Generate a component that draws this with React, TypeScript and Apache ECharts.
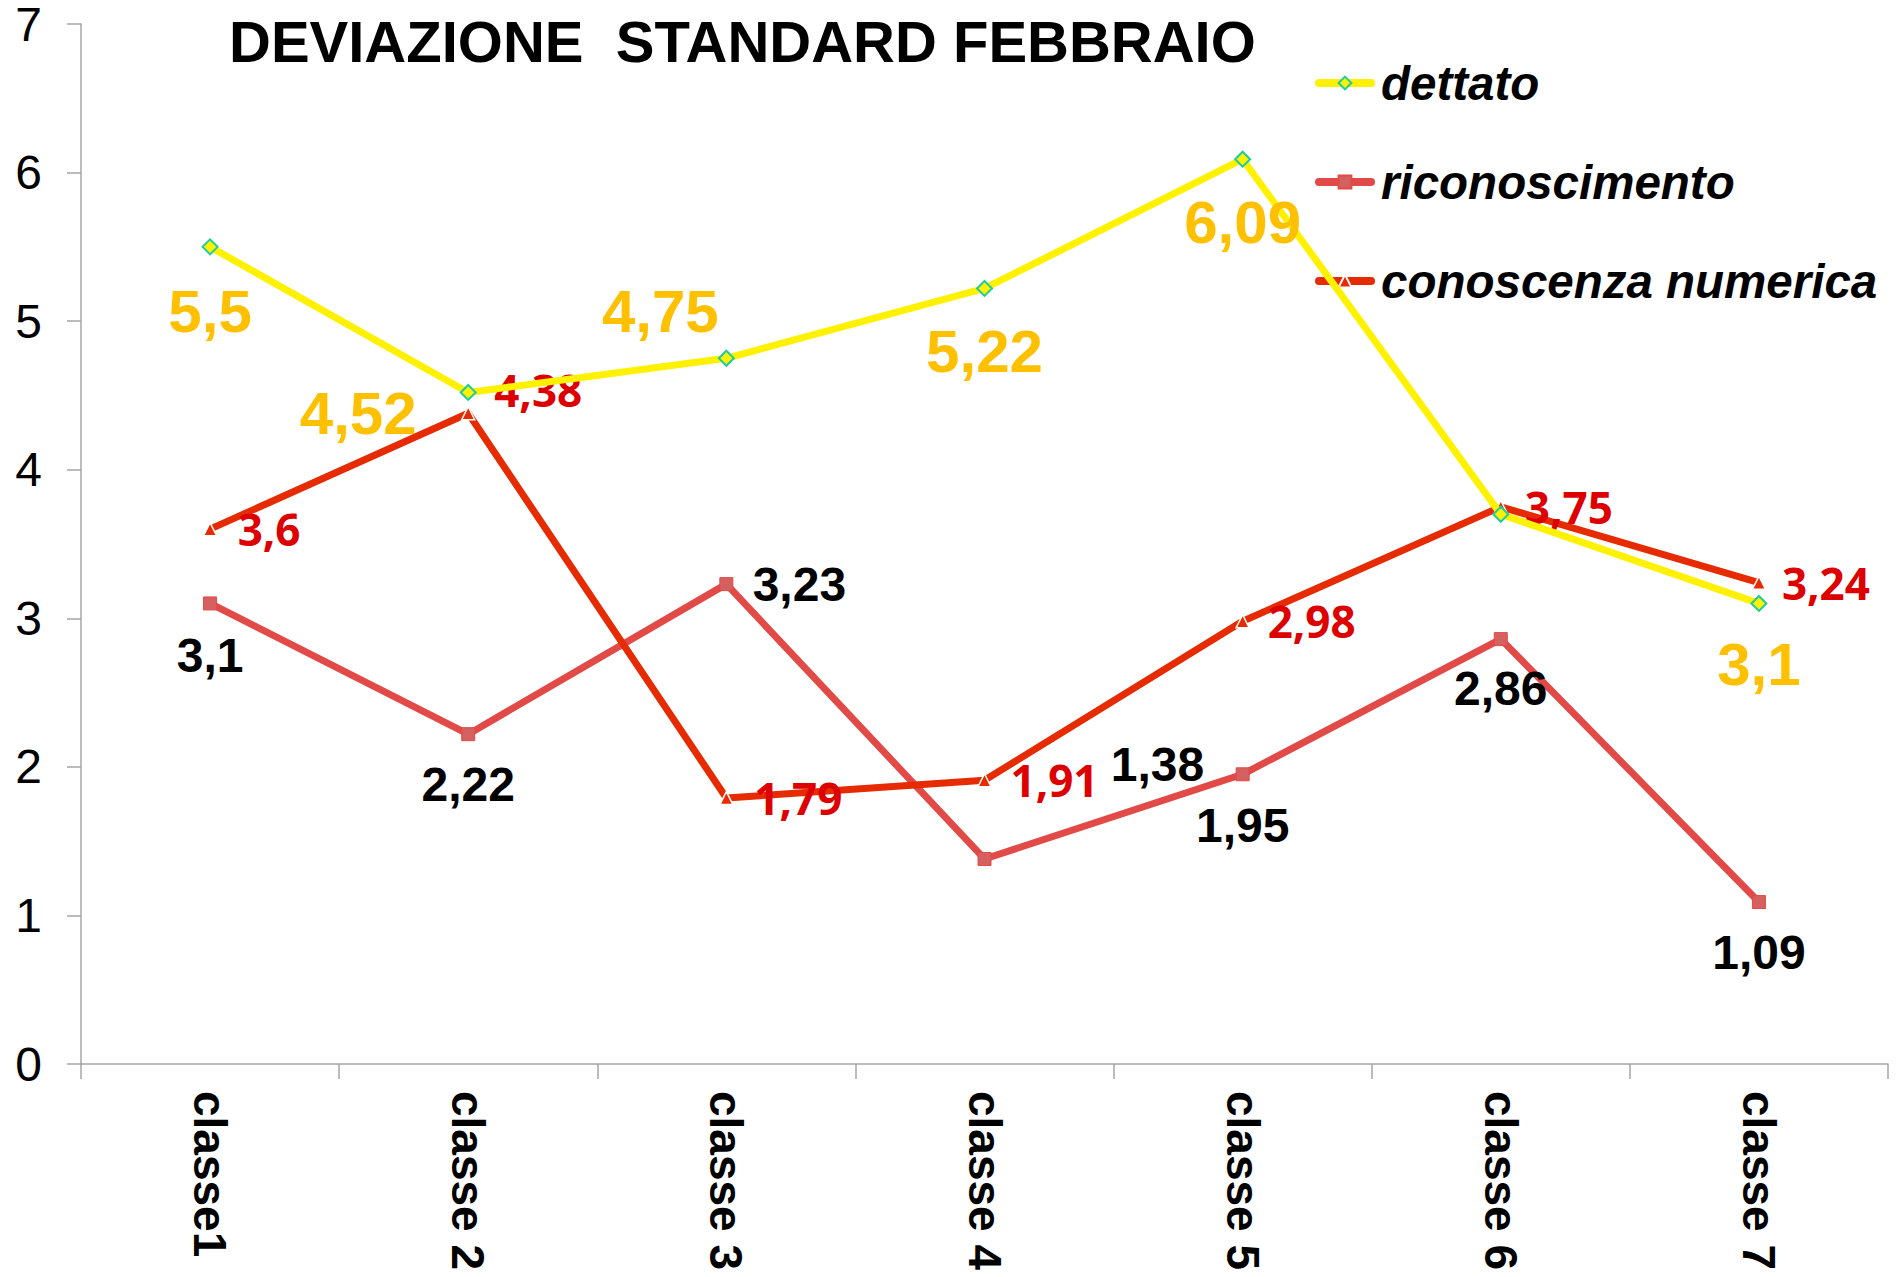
import React, { useEffect, useRef } from "react";
import * as echarts from "echarts";

const categories = ["classe1", "classe 2", "classe 3", "classe 4", "classe 5", "classe 6", "classe 7"];
const dettato = [5.5, 4.52, 4.75, 5.22, 6.09, 3.7, 3.1];
const riconoscimento = [3.1, 2.22, 3.23, 1.38, 1.95, 2.86, 1.09];
const conoscenza = [3.6, 4.38, 1.79, 1.91, 2.98, 3.75, 3.24];
const seriesNames = ["dettato", "riconoscimento", "conoscenza numerica"];
const titleText = "DEVIAZIONE  STANDARD FEBBRAIO";

// label placement (offsets from the point, in px); null = no label
const dettatoLabelOffsets: (number[] | null)[] = [[0, 65], [-110, 21], [-66, -47], [0, 63], [0, 63], null, [0, 61]];
const riconLabelOffsets: (number[] | null)[] = [[0, 52], [0, 50], [73, 0], [173, -94], [0, 51], [0, 49], [0, 50]];
const conoscLabelOffsets: (number[] | null)[] = [[59, 0], [70, -23], [72, 0], [70, 0], [69, 0], [68, 0], [67, 0]];

const fmt = (v: number) => String(v).replace(".", ",");

function buildData(values: number[], offsets: (number[] | null)[]) {
  return values.map((v, i) => {
    const off = offsets[i];
    if (!off) return { value: v, label: { show: false } };
    return { value: v, label: { show: true, position: "inside", offset: off } };
  });
}

export default function App() {
  const ref = useRef<HTMLDivElement>(null);
  useEffect(() => {
    if (!ref.current) return;
    const chart = echarts.init(ref.current, undefined, { renderer: "svg" });
    const font = "'Liberation Sans', Arial, sans-serif";
    chart.setOption({
      animation: false,
      backgroundColor: "#ffffff",
      title: {
        text: titleText,
        left: 224,
        top: 7,
        textStyle: { fontSize: 58, fontWeight: "bold", color: "#000", fontFamily: font },
      },
      legend: {
        data: seriesNames,
        orient: "vertical",
        left: 1310,
        top: 54,
        itemWidth: 52,
        itemHeight: 16,
        itemGap: 51,
        z: 1,
        lineStyle: { width: 8, cap: "round" },
        textStyle: {
          fontSize: 47.5,
          lineHeight: 46,
          fontWeight: "bold",
          fontStyle: "italic",
          color: "#000",
          fontFamily: font,
          padding: [0, 0, 0, 5],
        },
      },
      grid: { left: 81, right: 12, top: 24, bottom: 213, containLabel: false },
      xAxis: {
        type: "category",
        data: categories,
        boundaryGap: true,
        axisLine: { show: true, lineStyle: { color: "#A6A6A6", width: 1.5 } },
        axisTick: { show: true, length: 15, interval: 0, lineStyle: { color: "#A6A6A6", width: 1.5 } },
        axisLabel: {
          interval: 0,
          rotate: -90,
          margin: 27,
          fontSize: 46,
          fontWeight: "bold",
          color: "#000",
          fontFamily: font,
        },
        splitLine: { show: false },
      },
      yAxis: {
        type: "value",
        min: 0,
        max: 7,
        interval: 1,
        axisLine: { show: true, lineStyle: { color: "#A6A6A6", width: 1.5 } },
        axisTick: { show: true, length: 14, lineStyle: { color: "#A6A6A6", width: 1.5 } },
        axisLabel: { fontSize: 48, lineHeight: 40, color: "#000", margin: 39, fontFamily: font },
        splitLine: { show: false },
      },
      series: [
        {
          name: "dettato",
          type: "line",
          z: 4,
          data: buildData(dettato, dettatoLabelOffsets),
          symbol: "diamond",
          symbolSize: 15,
          lineStyle: { color: "#FFF100", width: 7 },
          itemStyle: { color: "#FFF100", borderColor: "#1DCCA0", borderWidth: 2 },
          label: {
            show: true,
            formatter: (p: any) => fmt(p.value),
            color: "#FFC000",
            fontSize: 60,
            fontWeight: "bold",
            fontFamily: font,
            align: "center",
            verticalAlign: "middle",
          },
        },
        {
          name: "riconoscimento",
          type: "line",
          z: 2,
          data: buildData(riconoscimento, riconLabelOffsets),
          symbol: "rect",
          symbolSize: 13,
          lineStyle: { color: "#E24A47", width: 7 },
          itemStyle: { color: "#D4605F", borderColor: "#E24A47", borderWidth: 1 },
          label: {
            show: true,
            formatter: (p: any) => fmt(p.value),
            color: "#000",
            fontSize: 48,
            fontWeight: "bold",
            fontFamily: font,
            align: "center",
            verticalAlign: "middle",
          },
        },
        {
          name: "conoscenza numerica",
          type: "line",
          z: 3,
          data: buildData(conoscenza, conoscLabelOffsets),
          symbol: "triangle",
          symbolSize: 13,
          lineStyle: { color: "#E62B00", width: 7 },
          itemStyle: { color: "#E62B00", borderColor: "#ffffff", borderWidth: 1.5 },
          label: {
            show: true,
            formatter: (p: any) => fmt(p.value),
            color: "#DD0000",
            fontSize: 44,
            fontWeight: "bold",
            fontFamily: "'Open Sans', 'Noto Sans', sans-serif",
            align: "center",
            verticalAlign: "middle",
          },
        },
      ],
    });
    return () => chart.dispose();
  }, []);
  return (
    <div
      ref={ref}
      style={{ position: "fixed", left: 0, top: 0, width: 1900, height: 1277, background: "#fff" }}
    />
  );
}
